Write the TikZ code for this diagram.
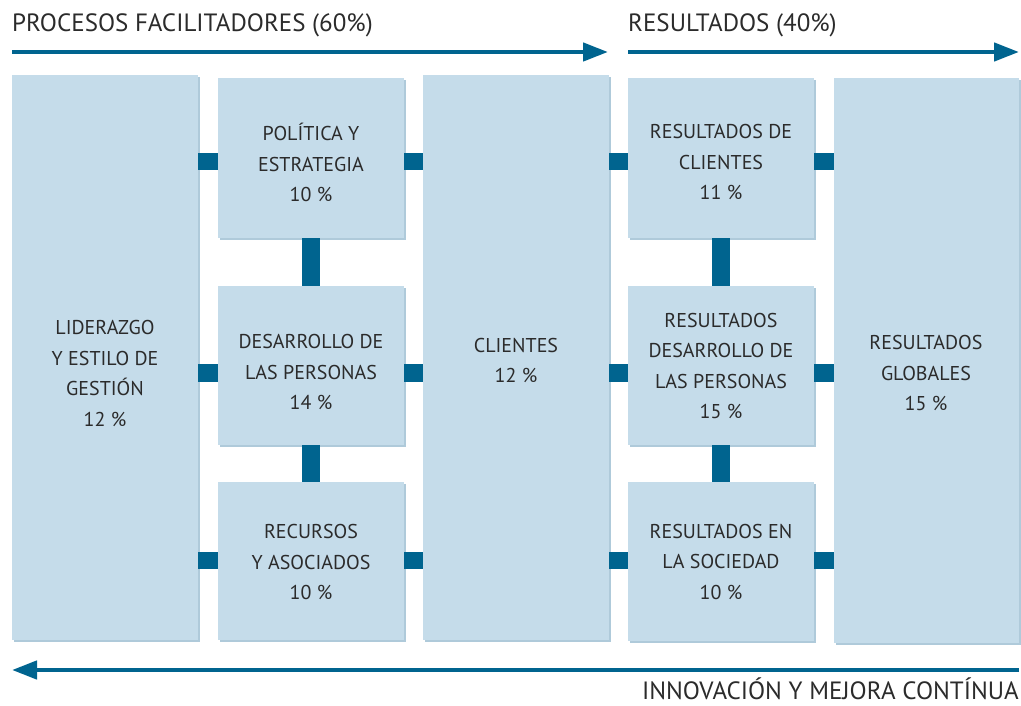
\documentclass[tikz,border=0pt]{standalone}
\usepackage{fontspec}
\setmainfont{PT Sans}
\usetikzlibrary{arrows.meta,shadows}
\definecolor{boxfill}{HTML}{C5DCEA}
\definecolor{darkblue}{HTML}{00648F}
\definecolor{shadowc}{HTML}{6E9FBC}
\definecolor{txt}{HTML}{2B2B2B}
\tikzset{
  box/.style={anchor=north west, fill=boxfill, draw=none, inner sep=0pt,
    drop shadow={shadow xshift=1.5pt, shadow yshift=-2.2pt, fill=shadowc, opacity=0.55}},
  boxtext/.style={align=center, text=txt, font=\fontsize{20}{30.5}\selectfont, inner sep=0pt},
  headtext/.style={text=txt, font=\fontsize{25}{30}\selectfont, inner sep=0pt},
  conn/.style={draw=darkblue, line width=17.5pt},
  bigarrow/.style={draw=darkblue, line width=4.5pt, -{Triangle[length=25pt,width=18pt]}}
}
\begin{document}
\begin{tikzpicture}[x=1pt,y=-1pt]
\useasboundingbox (0,0) rectangle (1021,706);
% boxes
\node[box, minimum width=186pt, minimum height=565pt] (lid) at (12,75) {};
\node[box, minimum width=186pt, minimum height=160pt] (pol) at (218,78) {};
\node[box, minimum width=186pt, minimum height=159pt] (des) at (218,286) {};
\node[box, minimum width=186pt, minimum height=158pt] (rec) at (218,482) {};
\node[box, minimum width=186pt, minimum height=565pt] (cli) at (423,75) {};
\node[box, minimum width=186pt, minimum height=160pt] (rc) at (628,78) {};
\node[box, minimum width=186pt, minimum height=159pt] (rd) at (628,286) {};
\node[box, minimum width=186pt, minimum height=159pt] (rs) at (628,482) {};
\node[box, minimum width=185pt, minimum height=565pt] (rg) at (834,78) {};
% texts
\node[boxtext] (lidt) at (105,373.5) {LIDERAZGO\\Y ESTILO DE\\GESTIÓN\\12 \%};
\node[boxtext] (polt) at (311,162.5) {POLÍTICA Y\\ESTRATEGIA\\10 \%};
\node[boxtext] (dest) at (311,372) {DESARROLLO DE\\LAS PERSONAS\\14 \%};
\node[boxtext] (rect) at (311,562) {RECURSOS\\Y ASOCIADOS\\10 \%};
\node[boxtext] (clit) at (516,360.5) {CLIENTES\\12 \%};
\node[boxtext] (rct) at (721,162.5) {RESULTADOS DE\\CLIENTES\\11 \%};
\node[boxtext] (rdt) at (721,366) {RESULTADOS\\DESARROLLO DE\\LAS PERSONAS\\15 \%};
\node[boxtext] (rst) at (721,561.5) {RESULTADOS EN\\LA SOCIEDAD\\10 \%};
\node[boxtext] (rgt) at (926,373) {RESULTADOS\\GLOBALES\\15 \%};
% connector rows
\coordinate (r1) at (0,161.5);
\coordinate (r2) at (0,373);
\coordinate (r3) at (0,560.5);
\foreach \a/\b in {lid/pol, pol/cli, cli/rc, rc/rg}
  \draw[conn] (\a.east |- r1) -- (\b.west |- r1);
\foreach \a/\b in {lid/des, des/cli, cli/rd, rd/rg}
  \draw[conn] (\a.east |- r2) -- (\b.west |- r2);
\foreach \a/\b in {lid/rec, rec/cli, cli/rs, rs/rg}
  \draw[conn] (\a.east |- r3) -- (\b.west |- r3);
\draw[conn] (pol.south) -- (des.north);
\draw[conn] (des.south) -- (rec.north);
\draw[conn] (rc.south) -- (rd.north);
\draw[conn] (rd.south) -- (rs.north);
% headers and arrows
\node[headtext, anchor=base west] (h1) at (12,32) {PROCESOS FACILITADORES (60\%)};
\node[headtext, anchor=base west] (h2) at (628,32) {RESULTADOS (40\%)};
\node[headtext, anchor=base east] (h3) at (1019,699) {INNOVACIÓN Y MEJORA CONTÍNUA};
\coordinate (a1s) at (12,52);
\coordinate (a1e) at (608,52);
\coordinate (a2s) at (628,52);
\coordinate (a2e) at (1019,52);
\coordinate (a3s) at (1019,670);
\coordinate (a3e) at (12,670);
\draw[bigarrow] (a1s) -- (a1e);
\draw[bigarrow] (a2s) -- (a2e);
\draw[bigarrow] (a3s) -- (a3e);
\end{tikzpicture}
\end{document}
